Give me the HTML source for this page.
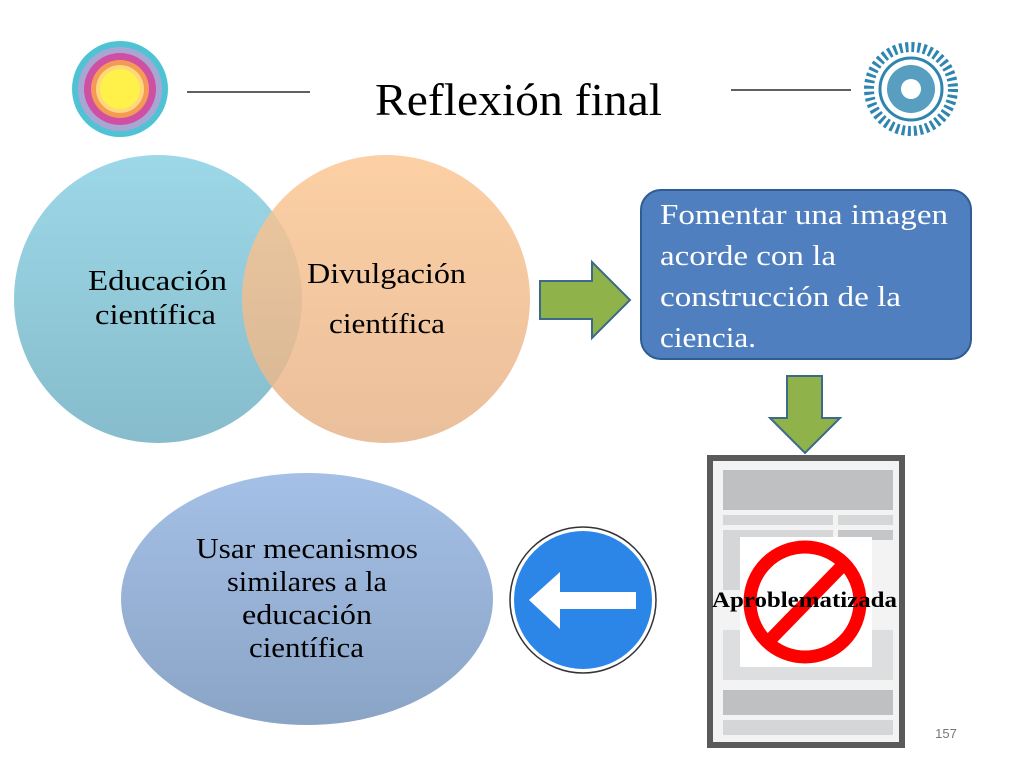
<!DOCTYPE html>
<html><head><meta charset="utf-8"><style>
html,body{margin:0;padding:0;background:#fff;}
body{width:1024px;height:768px;overflow:hidden;}
svg text{font-family:"Liberation Serif",serif;}
</style></head><body>
<svg width="1024" height="768" viewBox="0 0 1024 768">
<defs>
<linearGradient id="gb" x1="0" y1="0" x2="0" y2="1"><stop offset="0" stop-color="#9dd8e8"/><stop offset="1" stop-color="#86bccb"/></linearGradient>
<linearGradient id="go" x1="0" y1="0" x2="0" y2="1"><stop offset="0" stop-color="#fcc794"/><stop offset="1" stop-color="#e6b48a"/></linearGradient>
<linearGradient id="ge" x1="0" y1="0" x2="0" y2="1"><stop offset="0" stop-color="#a5c0e6"/><stop offset="1" stop-color="#8aa4c6"/></linearGradient>
</defs>
<circle cx="120" cy="89" r="48" fill="#4fc3d4"/>
<circle cx="120" cy="89" r="42" fill="#a9a6d3"/>
<circle cx="120" cy="89" r="36" fill="#cf4fa2"/>
<circle cx="120" cy="89" r="29" fill="#f59a55"/>
<circle cx="120" cy="89" r="24" fill="#fcd97a"/>
<circle cx="120" cy="89" r="20" fill="#fff04a"/>
<line x1="187" y1="92" x2="310" y2="92" stroke="#000" stroke-width="1.2"/>
<line x1="731" y1="90" x2="851" y2="90" stroke="#000" stroke-width="1.2"/>
<text x="375" y="115" font-size="46" textLength="287" lengthAdjust="spacingAndGlyphs">Reflexión final</text>
<circle cx="911" cy="89" r="42" fill="none" stroke="#2e86b0" stroke-width="10" stroke-dasharray="3 3"/>
<circle cx="911" cy="89" r="31" fill="#fff" stroke="#2e86b0" stroke-width="3"/>
<circle cx="911" cy="89" r="24" fill="#2e86b0" opacity="0.8"/>
<circle cx="911" cy="89" r="10" fill="#fff"/>
<circle cx="158" cy="299" r="144" fill="url(#gb)"/>
<circle cx="386" cy="299" r="144" fill="url(#go)" opacity="0.85"/>
<text x="88" y="290" font-size="29" textLength="139" lengthAdjust="spacingAndGlyphs">Educación</text>
<text x="95" y="324" font-size="29" textLength="121" lengthAdjust="spacingAndGlyphs">científica</text>
<text x="307" y="283" font-size="29" textLength="159" lengthAdjust="spacingAndGlyphs">Divulgación</text>
<text x="329" y="333" font-size="29" textLength="116" lengthAdjust="spacingAndGlyphs">científica</text>
<polygon points="540,281 592,281 592,262 630,300 592,338 592,319 540,319" fill="#8fb24a" stroke="#3d6a8a" stroke-width="2"/>
<rect x="641" y="190" width="330" height="169" rx="20" fill="#4f7fbf" stroke="#2f5c93" stroke-width="2"/>
<g font-size="28" fill="#fff">
<text x="660" y="224" textLength="288" lengthAdjust="spacingAndGlyphs" fill="#fff">Fomentar una imagen</text>
<text x="660" y="265" textLength="176" lengthAdjust="spacingAndGlyphs" fill="#fff">acorde con la</text>
<text x="660" y="306" textLength="241" lengthAdjust="spacingAndGlyphs" fill="#fff">construcción de la</text>
<text x="660" y="347" textLength="96" lengthAdjust="spacingAndGlyphs" fill="#fff">ciencia.</text>
</g>
<polygon points="787,376 822,376 822,418 840,418 805,453 770,418 787,418" fill="#8fb24a" stroke="#3d6a8a" stroke-width="2"/>
<rect x="707" y="455" width="198" height="293" fill="#5a5a5a"/>
<rect x="713" y="461" width="186" height="281" fill="#f3f3f3"/>
<rect x="723" y="470" width="170" height="40" fill="#bfc0c2"/>
<rect x="723" y="515" width="110" height="10" fill="#d5d6d8"/>
<rect x="838" y="515" width="55" height="10" fill="#d5d6d8"/>
<rect x="723" y="530" width="110" height="60" fill="#d5d6d8"/>
<rect x="838" y="530" width="55" height="10" fill="#c5c6c8"/>
<rect x="723" y="630" width="170" height="50" fill="#dddee0"/>
<rect x="723" y="690" width="170" height="25" fill="#bfc0c2"/>
<rect x="723" y="720" width="170" height="15" fill="#d5d6d8"/>
<rect x="740" y="537" width="132" height="130" fill="#fff"/>
<circle cx="805" cy="602" r="55" fill="none" stroke="#f00" stroke-width="13"/>
<line x1="770" y1="640" x2="842" y2="566" stroke="#f00" stroke-width="13"/>
<text x="712" y="607" font-size="22" font-weight="bold" textLength="185" lengthAdjust="spacingAndGlyphs">Aproblematizada</text>
<text x="946" y="738" font-size="13" fill="#777" text-anchor="middle" style="font-family:'Liberation Sans',sans-serif">157</text>
<circle cx="583" cy="600" r="73" fill="#fff" stroke="#333" stroke-width="1.5"/>
<circle cx="583" cy="600" r="69" fill="#2b86e8"/>
<polygon points="529,600 560,572 560,592 636,592 636,609 560,609 560,629" fill="#fff"/>
<ellipse cx="307" cy="599" rx="186" ry="126" fill="url(#ge)"/>
<g font-size="28">
<text x="196" y="558" textLength="222" lengthAdjust="spacingAndGlyphs">Usar mecanismos</text>
<text x="227" y="591" textLength="160" lengthAdjust="spacingAndGlyphs">similares a la</text>
<text x="242" y="624" textLength="130" lengthAdjust="spacingAndGlyphs">educación</text>
<text x="249" y="657" textLength="115" lengthAdjust="spacingAndGlyphs">científica</text>
</g>
</svg>
</body></html>
